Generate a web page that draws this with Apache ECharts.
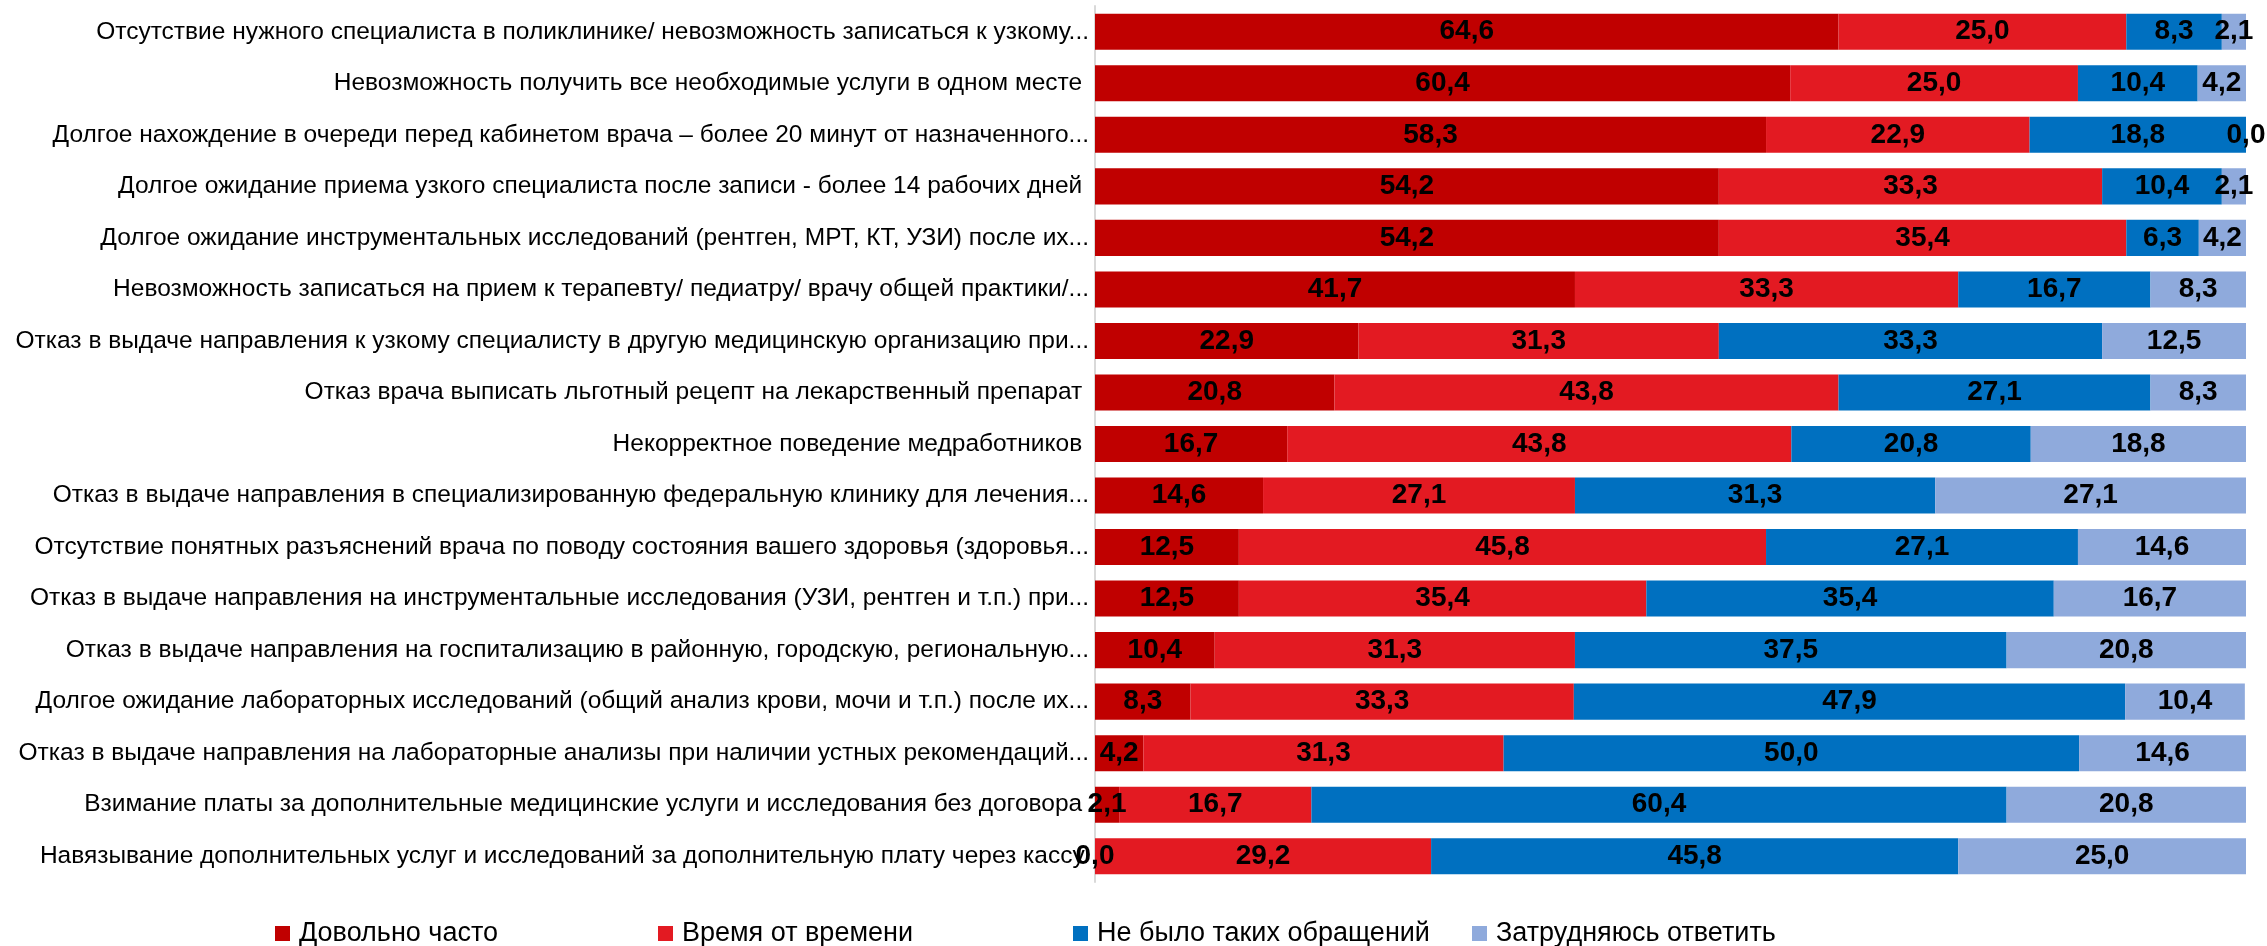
<!DOCTYPE html>
<html><head><meta charset="utf-8">
<script src="https://cdn.jsdelivr.net/npm/echarts@6/dist/echarts.min.js"></script>
<style>html,body{margin:0;padding:0;background:#fff}#c{width:2267px;height:946px}</style>
</head><body><div id="c"></div>
<script>
const categories = [
  "Отсутствие нужного специалиста в поликлинике/ невозможность записаться к узкому...",
  "Невозможность получить все необходимые услуги в одном месте ",
  "Долгое нахождение в очереди перед кабинетом врача – более 20 минут от назначенного...",
  "Долгое ожидание приема узкого специалиста после записи - более 14 рабочих дней ",
  "Долгое ожидание инструментальных исследований (рентген, МРТ, КТ, УЗИ) после их...",
  "Невозможность записаться на прием к терапевту/ педиатру/ врачу общей практики/...",
  "Отказ в выдаче направления к узкому специалисту в другую медицинскую организацию при...",
  "Отказ врача выписать льготный рецепт на лекарственный препарат ",
  "Некорректное поведение медработников ",
  "Отказ в выдаче направления в специализированную федеральную клинику для лечения...",
  "Отсутствие понятных разъяснений врача по поводу состояния вашего здоровья (здоровья...",
  "Отказ в выдаче направления на инструментальные исследования (УЗИ, рентген и т.п.) при...",
  "Отказ в выдаче направления на госпитализацию в районную, городскую, региональную...",
  "Долгое ожидание лабораторных исследований (общий анализ крови, мочи и т.п.) после их...",
  "Отказ в выдаче направления на лабораторные анализы при наличии устных рекомендаций...",
  "Взимание платы за дополнительные медицинские услуги и исследования без договора ",
  "Навязывание дополнительных услуг и исследований за дополнительную плату через кассу."
];
const seriesNames = ["Довольно часто", "Время от времени", "Не было таких обращений", "Затрудняюсь ответить"];
const often     = [64.6, 60.4, 58.3, 54.2, 54.2, 41.7, 22.9, 20.8, 16.7, 14.6, 12.5, 12.5, 10.4, 8.3, 4.2, 2.1, 0.0];
const sometimes = [25.0, 25.0, 22.9, 33.3, 35.4, 33.3, 31.3, 43.8, 43.8, 27.1, 45.8, 35.4, 31.3, 33.3, 31.3, 16.7, 29.2];
const never     = [8.3, 10.4, 18.8, 10.4, 6.3, 16.7, 33.3, 27.1, 20.8, 31.3, 27.1, 35.4, 37.5, 47.9, 50.0, 60.4, 45.8];
const unsure    = [2.1, 4.2, 0.0, 2.1, 4.2, 8.3, 12.5, 8.3, 18.8, 27.1, 14.6, 16.7, 20.8, 10.4, 14.6, 20.8, 25.0];
const colors = ["#C00000", "#E31A22", "#0070C0", "#8FAADC"];

const FONT = "'Liberation Sans', Arial, sans-serif";
const chart = echarts.init(document.getElementById('c'));
const values = [often, sometimes, never, unsure];
const legendLefts = [275, 658, 1073, 1472];
chart.setOption({
  animation: false,
  color: colors,
  grid: {left: 1095, right: 21, top: 6, bottom: 64},
  legend: seriesNames.map((n, i) => ({
    data: [n], left: legendLefts[i], top: 920, padding: 0, itemWidth: 15, itemHeight: 15,
    icon: 'rect',
    textStyle: {fontFamily: FONT, fontSize: 27, color: '#000', padding: [0, 0, 0, 4]}
  })),
  xAxis: {type: 'value', min: 0, max: 100, show: false},
  yAxis: {
    type: 'category', data: categories, inverse: true,
    axisLine: {show: true, lineStyle: {color: '#D9D9D9', width: 2}},
    axisTick: {show: false},
    axisLabel: {fontFamily: FONT, fontSize: 24.5, color: '#000', margin: 6}
  },
  series: seriesNames.map((n, i) => ({
    name: n, type: 'bar', stack: 'total', data: values[i], barCategoryGap: '30%',
    label: {show: true, position: 'inside', color: '#000', fontFamily: FONT, fontWeight: 'bold', fontSize: 28,
      formatter: p => p.value.toFixed(1).replace('.', ',')}
  }))
});
</script></body></html>
